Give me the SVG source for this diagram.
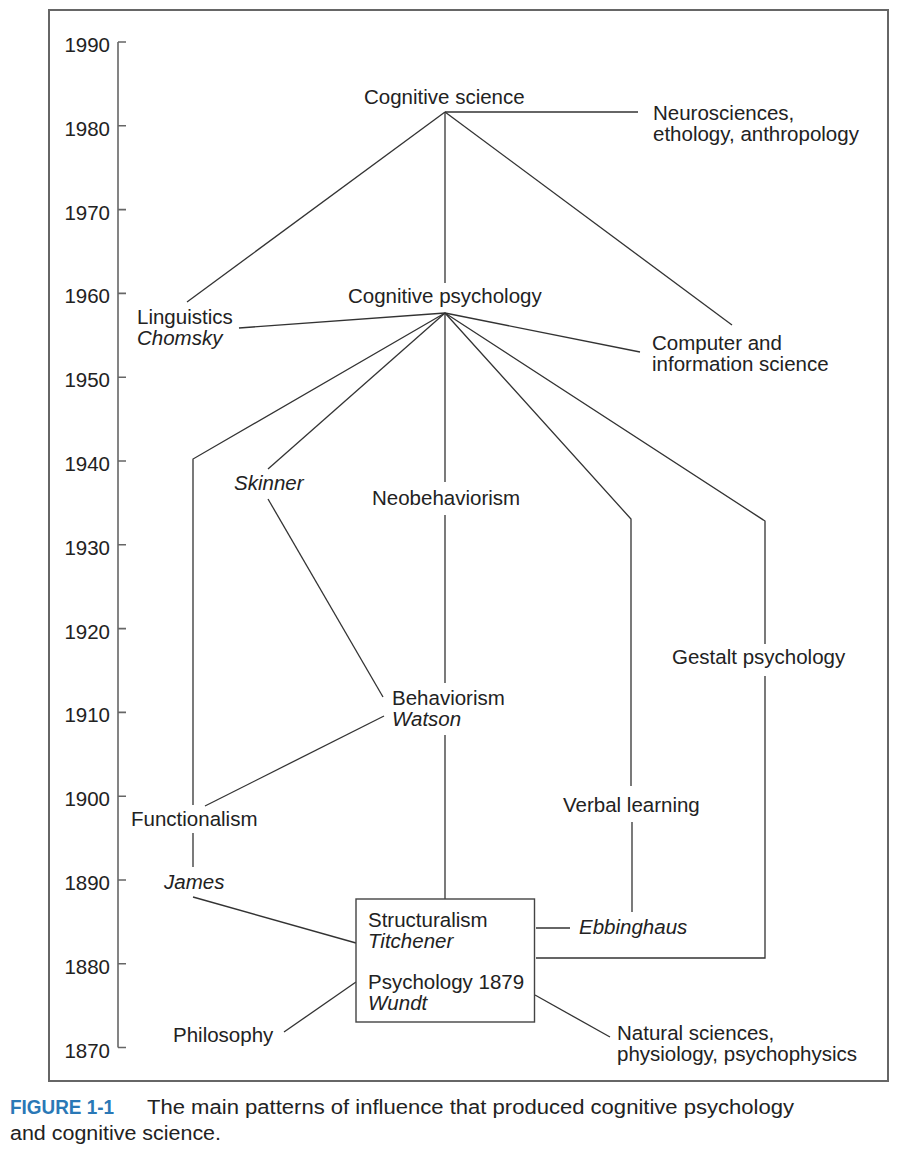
<svg xmlns="http://www.w3.org/2000/svg" width="916" height="1158" viewBox="0 0 916 1158">
<style>
.t{font-family:"Liberation Sans",Arial,sans-serif;font-size:20.5px;fill:#222}
.i{font-style:italic}
.y{font-family:"Liberation Sans",Arial,sans-serif;font-size:20.5px;fill:#222;text-anchor:end}
.c{fill:none;stroke:#333;stroke-width:1.3}
.ax{fill:none;stroke:#666;stroke-width:1.6}
.cap{font-family:"Liberation Sans Narrow","Liberation Sans",Arial,sans-serif;font-size:20px;fill:#222}
.capb{font-weight:bold;fill:#2a78b6}
</style>
<rect x="49" y="10" width="839" height="1071" fill="#fff" stroke="#666" stroke-width="2"/>
<g id="axis">
<path class="ax" d="M118 42V1047.5M118 42H126M118 125.8H126M118 209.6H126M118 293.4H126M118 377.2H126M118 461H126M118 544.8H126M118 628.6H126M118 712.4H126M118 796.2H126M118 880H126M118 963.8H126M118 1047.5H126"/>
<text class="y" x="110" y="52">1990</text>
<text class="y" x="110" y="136">1980</text>
<text class="y" x="110" y="220">1970</text>
<text class="y" x="110" y="303">1960</text>
<text class="y" x="110" y="387">1950</text>
<text class="y" x="110" y="471">1940</text>
<text class="y" x="110" y="555">1930</text>
<text class="y" x="110" y="639">1920</text>
<text class="y" x="110" y="722">1910</text>
<text class="y" x="110" y="806">1900</text>
<text class="y" x="110" y="890">1890</text>
<text class="y" x="110" y="974">1880</text>
<text class="y" x="110" y="1058">1870</text>
</g>
<g id="connectors">
<path class="c" d="M445 112H638"/>
<path class="c" d="M445 112V283"/>
<path class="c" d="M445 112L187 302"/>
<path class="c" d="M445 112L732 325"/>
<path class="c" d="M445 313L239 328"/>
<path class="c" d="M445 313L640 352"/>
<path class="c" d="M445 313L193 459V805"/>
<path class="c" d="M193 833V867"/>
<path class="c" d="M445 313L268 469"/>
<path class="c" d="M445 313V482"/>
<path class="c" d="M445 313L631 519V786"/>
<path class="c" d="M445 313L765 521V644"/>
<path class="c" d="M268 499L383 697"/>
<path class="c" d="M445 515V683"/>
<path class="c" d="M445 735V899"/>
<path class="c" d="M384 716L205 806"/>
<path class="c" d="M193 897L356 943"/>
<path class="c" d="M632 822V912"/>
<path class="c" d="M536 928H570"/>
<path class="c" d="M765 676V958H536"/>
<path class="c" d="M284 1032L356 982"/>
<path class="c" d="M535 995L610 1037"/>
</g>
<g id="cognitive-science"><text class="t" x="364" y="104">Cognitive science</text></g>
<g id="neurosciences"><text class="t" x="653" y="120">Neurosciences,</text><text class="t" x="653" y="141">ethology, anthropology</text></g>
<g id="cognitive-psychology"><text class="t" x="348" y="303">Cognitive psychology</text></g>
<g id="linguistics"><text class="t" x="137" y="324">Linguistics</text><text class="t i" x="137" y="345">Chomsky</text></g>
<g id="computer"><text class="t" x="652" y="350">Computer and</text><text class="t" x="652" y="371">information science</text></g>
<g id="skinner"><text class="t i" x="234" y="490">Skinner</text></g>
<g id="neobehaviorism"><text class="t" x="372" y="505">Neobehaviorism</text></g>
<g id="gestalt"><text class="t" x="672" y="664">Gestalt psychology</text></g>
<g id="behaviorism"><text class="t" x="392" y="705">Behaviorism</text><text class="t i" x="392" y="726">Watson</text></g>
<g id="verbal-learning"><text class="t" x="563" y="812">Verbal learning</text></g>
<g id="functionalism"><text class="t" x="131" y="826">Functionalism</text></g>
<g id="james"><text class="t i" x="164" y="889">James</text></g>
<g id="ebbinghaus"><text class="t i" x="579" y="934">Ebbinghaus</text></g>
<g id="structuralism">
<rect x="356" y="899" width="178.5" height="123" fill="#fff" stroke="#444" stroke-width="1.4"/>
<text class="t" x="368" y="927">Structuralism</text><text class="t i" x="368" y="948">Titchener</text>
<text class="t" x="368" y="989">Psychology 1879</text><text class="t i" x="368" y="1010">Wundt</text>
</g>
<g id="philosophy"><text class="t" x="173" y="1042">Philosophy</text></g>
<g id="natural-sciences"><text class="t" x="617" y="1040">Natural sciences,</text><text class="t" x="617" y="1061">physiology, psychophysics</text></g>
<g id="caption">
<text class="cap capb" x="10" y="1114" textLength="104" lengthAdjust="spacingAndGlyphs">FIGURE 1-1</text>
<text class="cap" x="147" y="1114" textLength="647" lengthAdjust="spacingAndGlyphs">The main patterns of influence that produced cognitive psychology</text>
<text class="cap" x="10" y="1140" textLength="211" lengthAdjust="spacingAndGlyphs">and cognitive science.</text>
</g>
</svg>
